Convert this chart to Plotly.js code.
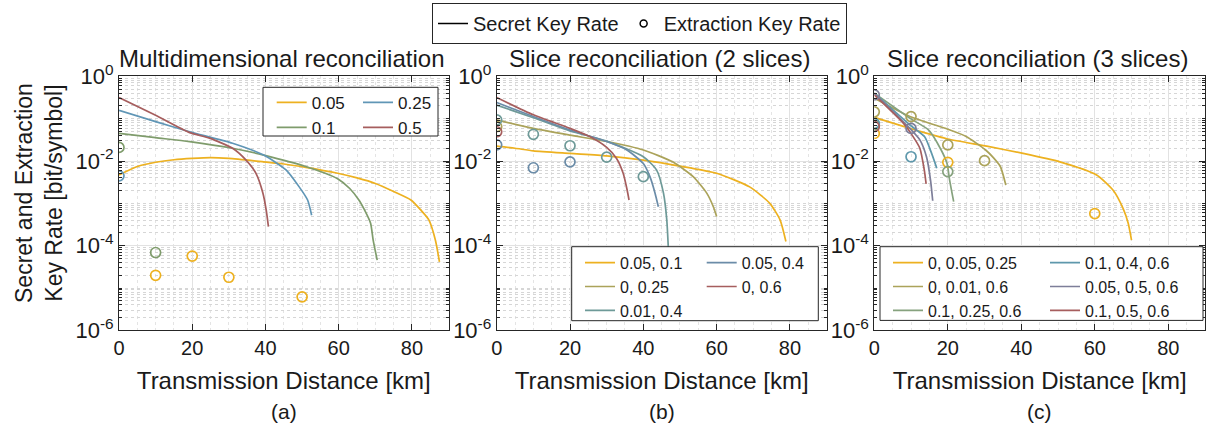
<!DOCTYPE html>
<html>
<head>
<meta charset="utf-8">
<script src="https://cdn.plot.ly/plotly-3.0.1.min.js"></script>
<style>html,body{margin:0;padding:0;background:#fff}#chart{width:1209px;height:432px}</style>
</head>
<body>
<div id="chart"></div>
<script>
// ---------------- DATA ----------------
const panelTitles = ['Multidimensional reconciliation', 'Slice reconciliation (2 slices)', 'Slice reconciliation (3 slices)'];
const subCaptions = ['(a)', '(b)', '(c)'];
const xTickVals = [0, 20, 40, 60, 80];
const yTickVals = [1e-6, 1e-4, 1e-2, 1];
const yTickText = ['10<sup>-6</sup>', '10<sup>-4</sup>', '10<sup>-2</sup>', '10<sup>0</sup>'];

// Panel (a) - multidimensional reconciliation
const a_names = ['0.05', '0.25', '0.1', '0.5'];
const a_x_005 = [0, 5, 10, 15, 20, 25, 30, 39.5, 45, 51, 59.7, 65, 70, 75, 79.7, 82.5, 84.6, 86.4, 87.5];
const a_y_005 = [4.68e-3, 7.41e-3, 9.33e-3, 1.07e-2, 1.15e-2, 1.20e-2, 1.15e-2, 9.55e-3, 8.5e-3, 7.08e-3, 5.13e-3, 3.98e-3, 2.95e-3, 1.9e-3, 1.20e-3, 6.8e-4, 4.07e-4, 1.35e-4, 4.17e-5];
const a_x_01 = [0, 10, 19.3, 31, 39.5, 51, 59.7, 63, 65.5, 67, 68.7, 69.4, 70.5];
const a_y_01 = [4.47e-2, 3.55e-2, 2.88e-2, 2.0e-2, 1.38e-2, 7.41e-3, 3.80e-3, 2.24e-3, 1.20e-3, 7.08e-4, 3.39e-4, 1.35e-4, 4.57e-5];
const a_x_025 = [0, 10, 19.3, 31, 39.5, 45.6, 49.2, 51.5, 52.6];
const a_y_025 = [0.158, 8.51e-2, 4.90e-2, 2.63e-2, 1.38e-2, 6.17e-3, 2.45e-3, 1.20e-3, 5.25e-4];
const a_x_05 = [0, 10, 19.3, 24.7, 31, 34.7, 37.4, 39.3, 40.2, 40.8];
const a_y_05 = [0.316, 0.120, 4.68e-2, 3.47e-2, 2.0e-2, 1.05e-2, 5.13e-3, 1.74e-3, 6.92e-4, 2.82e-4];
// extraction key rate markers (a)
const a_mx_005 = [10, 20, 30, 50];
const a_my_005 = [2.0e-5, 5.7e-5, 1.8e-5, 6.2e-6];
const a_mx_01 = [0, 10];
const a_my_01 = [2.09e-2, 6.9e-5];
const a_mx_025 = [0];
const a_my_025 = [4.47e-3];

// Panel (b) - slice reconciliation, 2 slices
const b_names = ['0.05, 0.1', '0, 0.25', '0.01, 0.4', '0.05, 0.4', '0, 0.6'];
const b_x_1 = [0, 5, 10, 20, 30, 40, 50, 60, 69, 74.5, 77.3, 78.9];
const b_y_1 = [2.24e-2, 2.0e-2, 1.74e-2, 1.51e-2, 1.32e-2, 1.05e-2, 7.59e-3, 5.13e-3, 2.45e-3, 1.0e-3, 4.07e-4, 1.26e-4];
const b_x_2 = [0, 10, 20, 30, 40, 48, 53.6, 57.3, 59.1, 60];
const b_y_2 = [9.33e-2, 5.89e-2, 4.07e-2, 2.88e-2, 1.82e-2, 9.55e-3, 4.27e-3, 1.74e-3, 8.32e-4, 4.9e-4];
const b_x_3 = [0, 10, 20, 30, 40, 43.6, 45.5, 46.4, 46.8, 47.2];
const b_y_3 = [0.209, 0.105, 5.13e-2, 2.95e-2, 1.26e-2, 6.17e-3, 1.74e-3, 4.07e-4, 9.55e-5, 1.58e-5];
const b_x_4 = [0, 10, 20, 30, 35.5, 40, 41.8, 43.2, 44.1];
const b_y_4 = [0.240, 0.112, 5.37e-2, 2.88e-2, 1.82e-2, 8.71e-3, 4.27e-3, 1.74e-3, 8.32e-4];
const b_x_5 = [0, 10, 20, 25.5, 30, 32.7, 34.5, 35.6, 36.1];
const b_y_5 = [0.316, 0.123, 5.89e-2, 3.72e-2, 2.09e-2, 1.15e-2, 5.13e-3, 2.04e-3, 1.20e-3];
const b_mx_2 = [0];
const b_my_2 = [6.46e-2];
const b_mx_3 = [0, 10, 20, 30, 40];
const b_my_3 = [9.33e-2, 4.27e-2, 2.29e-2, 1.23e-2, 4.27e-3];
const b_mx_4 = [0, 10, 20];
const b_my_4 = [2.40e-2, 6.92e-3, 9.55e-3];
const b_mx_5 = [0];
const b_my_5 = [4.9e-2];

// Panel (c) - slice reconciliation, 3 slices
const c_names = ['0, 0.05, 0.25', '0, 0.01, 0.6', '0.1, 0.25, 0.6', '0.1, 0.4, 0.6', '0.05, 0.5, 0.6', '0.1, 0.5, 0.6'];
const c_x_1 = [0, 9.7, 12.4, 20, 30.6, 40.5, 50.5, 60.5, 65, 67.7, 69.1, 70];
const c_y_1 = [0.107, 5.89e-2, 5.01e-2, 3.31e-2, 2.24e-2, 1.51e-2, 9.55e-3, 4.68e-3, 2.04e-3, 7.59e-4, 3.39e-4, 1.35e-4];
const c_x_2 = [0, 9.7, 20, 25, 30.3, 32.4, 34.3, 35.8];
const c_y_2 = [0.302, 0.112, 5.62e-2, 3.80e-2, 1.82e-2, 1.20e-2, 7.41e-3, 2.69e-3];
const c_x_3 = [0, 9.7, 14.8, 18.2, 19.8, 20.5, 21.6];
const c_y_3 = [0.398, 0.102, 5.37e-2, 1.82e-2, 8.71e-3, 3.55e-3, 1.10e-3];
const c_x_4 = [0, 9.7, 13.7, 15.6, 17.0];
const c_y_4 = [0.398, 7.08e-2, 3.72e-2, 1.51e-2, 6.76e-3];
const c_x_5 = [0, 9.7, 12.4, 14.2, 15.3, 15.9];
const c_y_5 = [0.398, 5.89e-2, 3.16e-2, 1.26e-2, 3.55e-3, 1.15e-3];
const c_x_6 = [0, 7.9, 10.6, 12.4, 13.6, 14.1];
const c_y_6 = [0.363, 7.76e-2, 3.72e-2, 2.0e-2, 6.17e-3, 2.88e-3];
const c_mx_1 = [0, 20, 60];
const c_my_1 = [4.47e-2, 9.33e-3, 5.75e-4];
const c_mx_2 = [0, 10, 20, 30];
const c_my_2 = [0.145, 0.112, 2.40e-2, 1.02e-2];
const c_mx_3 = [0, 20];
const c_my_3 = [7.08e-2, 5.62e-3];
const c_mx_4 = [0, 10];
const c_my_4 = [7.76e-2, 1.26e-2];
const c_mx_5 = [0, 10];
const c_my_5 = [0.363, 5.89e-2];
const c_mx_6 = [0];
const c_my_6 = [6.46e-2];

// ---------------- STYLE ----------------
const FONT = 'Liberation Sans, Arial, Helvetica, sans-serif';
const TXT = '#1a1a1a';
const W = 1209, H = 432;
const PX = v => v / W;
const PY = v => 1 - v / H;
const COL = {
  yellow: '#EDB120', blue: '#6096B6', green: '#7F9C6C', red: '#A65E5E',
  olive: '#ABA35A', bluegrey: '#6B8CA8', teal: '#6E9A98',
  cgreen: '#86A27E', cteal: '#5E98AC', purple: '#7D7E99'
};
const LW = 1.7;

const traces = [];
function line(x, y, name, color, ax, legend) {
  traces.push({x, y, name, type: 'scatter', mode: 'lines', line: {color, width: LW, shape: 'spline', smoothing: 0.6},
    xaxis: 'x' + ax, yaxis: 'y' + ax, legend, hoverinfo: 'skip'});
}
function marks(x, y, color, ax) {
  traces.push({x, y, type: 'scatter', mode: 'markers', showlegend: false,
    marker: {symbol: 'circle-open', size: 10, color, line: {width: 1.7, color}},
    xaxis: 'x' + ax, yaxis: 'y' + ax, hoverinfo: 'skip'});
}
// top legend (dummy entries)
traces.push({x: [null], y: [null], name: 'Secret Key Rate', type: 'scatter', mode: 'lines',
  line: {color: '#000', width: 1.5}, xaxis: 'x', yaxis: 'y', legend: 'legend'});
traces.push({x: [null], y: [null], name: 'Extraction Key Rate', type: 'scatter', mode: 'markers',
  marker: {symbol: 'circle-open', size: 7, color: '#000', line: {width: 1.5, color: '#000'}}, xaxis: 'x', yaxis: 'y', legend: 'legend'});

// panel a
line(a_x_005, a_y_005, a_names[0], COL.yellow, '', 'legend2');
line(a_x_01, a_y_01, a_names[2], COL.green, '', 'legend2');
line(a_x_025, a_y_025, a_names[1], COL.blue, '', 'legend3');
line(a_x_05, a_y_05, a_names[3], COL.red, '', 'legend3');
marks(a_mx_005, a_my_005, COL.yellow, '');
marks(a_mx_01, a_my_01, COL.green, '');
marks(a_mx_025, a_my_025, COL.blue, '');
// panel b
line(b_x_1, b_y_1, b_names[0], COL.yellow, '2', 'legend4');
line(b_x_2, b_y_2, b_names[1], COL.olive, '2', 'legend4');
line(b_x_3, b_y_3, b_names[2], COL.teal, '2', 'legend4');
line(b_x_4, b_y_4, b_names[3], COL.bluegrey, '2', 'legend5');
line(b_x_5, b_y_5, b_names[4], COL.red, '2', 'legend5');
marks(b_mx_2, b_my_2, COL.olive, '2');
marks(b_mx_5, b_my_5, COL.red, '2');
marks(b_mx_4, b_my_4, COL.bluegrey, '2');
marks(b_mx_3, b_my_3, COL.teal, '2');
// panel c
line(c_x_1, c_y_1, c_names[0], COL.yellow, '3', 'legend6');
line(c_x_2, c_y_2, c_names[1], COL.olive, '3', 'legend6');
line(c_x_3, c_y_3, c_names[2], COL.cgreen, '3', 'legend6');
line(c_x_4, c_y_4, c_names[3], COL.cteal, '3', 'legend7');
line(c_x_5, c_y_5, c_names[4], COL.purple, '3', 'legend7');
line(c_x_6, c_y_6, c_names[5], COL.red, '3', 'legend7');
marks(c_mx_1, c_my_1, COL.yellow, '3');
marks(c_mx_2, c_my_2, COL.olive, '3');
marks(c_mx_3, c_my_3, COL.cgreen, '3');
marks(c_mx_4, c_my_4, COL.cteal, '3');
marks(c_mx_6, c_my_6, COL.red, '3');
marks(c_mx_5, c_my_5, COL.purple, '3');

// ---------------- AXES ----------------
const doms = [[119, 448.6], [496.7, 826.6], [874.3, 1205]];
const yDom = [PY(330.4), PY(76.3)];
const xMinor = [];
for (let v = 5; v < 90; v += 5) if (v % 20 !== 0) xMinor.push(v);
const yMinor = [];
for (let d = -6; d < 0; d++) for (let k = 1; k <= 9; k++) { if (k === 1 && d % 2 === 0) continue; yMinor.push(k * Math.pow(10, d)); }

const layout = {
  width: W, height: H, margin: {l: 0, r: 0, t: 0, b: 0},
  paper_bgcolor: '#fff', plot_bgcolor: '#fff',
  font: {family: FONT, color: TXT},
  showlegend: true,
  shapes: [], annotations: []
};
const suffix = ['', '2', '3'];
for (let i = 0; i < 3; i++) {
  const s = suffix[i];
  layout['xaxis' + s] = {
    domain: [PX(doms[i][0]), PX(doms[i][1])], range: [0, 90], anchor: 'y' + s,
    tickmode: 'array', tickvals: xTickVals, ticks: 'inside', ticklen: 6, tickcolor: '#262626',
    showline: true, mirror: 'ticks', linecolor: '#262626', linewidth: 1,
    showgrid: true, gridcolor: '#e2e2e2', gridwidth: 1, zeroline: false,
    minor: {tickmode: 'array', tickvals: xMinor, showgrid: true, gridcolor: '#e4e4e4', griddash: 'dot', gridwidth: 1, ticks: ''},
    tickfont: {family: FONT, size: 20, color: TXT},
    title: {text: 'Transmission Distance [km]', font: {family: FONT, size: 24, color: TXT}, standoff: 13},
    automargin: false, fixedrange: true
  };
  layout['yaxis' + s] = {
    domain: yDom, type: 'log', range: [-6, 0], anchor: 'x' + s,
    tickmode: 'array', tickvals: yTickVals, ticktext: yTickText,
    ticks: 'inside', ticklen: 6, tickcolor: '#262626',
    showline: true, mirror: 'ticks', linecolor: '#262626', linewidth: 1,
    showgrid: true, gridcolor: '#e2e2e2', gridwidth: 1, zeroline: false,
    minor: {tickmode: 'array', tickvals: yMinor, showgrid: true, gridcolor: '#d6d6d6', griddash: 'dot', gridwidth: 1, ticks: 'inside', ticklen: 3, tickcolor: '#262626'},
    tickfont: {family: FONT, size: 22, color: TXT},
    automargin: false, fixedrange: true
  };
  layout.annotations.push({text: panelTitles[i], xref: 'paper', yref: 'paper', x: PX((doms[i][0] + doms[i][1]) / 2 - 2), y: PY(58),
    xanchor: 'center', yanchor: 'middle', showarrow: false, font: {family: FONT, size: 24, color: TXT}});
  layout.annotations.push({text: subCaptions[i], xref: 'paper', yref: 'paper', x: PX((doms[i][0] + doms[i][1]) / 2), y: PY(411),
    xanchor: 'center', yanchor: 'middle', showarrow: false, font: {family: FONT, size: 21, color: TXT}});
}
layout.annotations.push({text: 'Secret and Extraction<br>Key Rate [bit/symbol]', xref: 'paper', yref: 'paper', x: PX(39), y: PY(193),
  xanchor: 'center', yanchor: 'middle', textangle: -90, showarrow: false, font: {family: FONT, size: 23, color: TXT}});

// legend boxes
const boxes = [[263, 87.3, 438, 136], [571.7, 246.7, 818.3, 320.7], [880, 246.7, 1203, 320.4]];
boxes.forEach(b => layout.shapes.push({type: 'rect', xref: 'paper', yref: 'paper', x0: PX(b[0]), x1: PX(b[2]), y0: PY(b[3]), y1: PY(b[1]),
  fillcolor: '#fff', line: {color: '#262626', width: 1}, layer: 'above'}));

function leg(xpx, ypx, size) {
  return {x: PX(xpx), y: PY(ypx), xref: 'paper', yref: 'paper', xanchor: 'left', yanchor: 'top', orientation: 'v',
    bgcolor: 'rgba(0,0,0,0)', borderwidth: 0, font: {family: FONT, size: size, color: TXT}, traceorder: 'normal', itemclick: false, itemdoubleclick: false};
}
layout.legend = {x: PX(432), y: PY(3), xref: 'paper', yref: 'paper', xanchor: 'left', yanchor: 'top', orientation: 'h',
  bgcolor: '#fff', bordercolor: '#262626', borderwidth: 1, font: {family: FONT, size: 20, color: TXT}, itemclick: false, itemdoubleclick: false};
layout.legend2 = leg(271.7, 84.8, 17);
layout.legend3 = leg(358, 84.8, 17);
layout.legend4 = leg(580, 245.8, 16);
layout.legend5 = leg(701.7, 245.8, 16);
layout.legend6 = leg(888, 245.8, 16);
layout.legend7 = leg(1045, 245.8, 16);

Plotly.newPlot('chart', traces, layout, {staticPlot: true, displayModeBar: false});
</script>
</body>
</html>
